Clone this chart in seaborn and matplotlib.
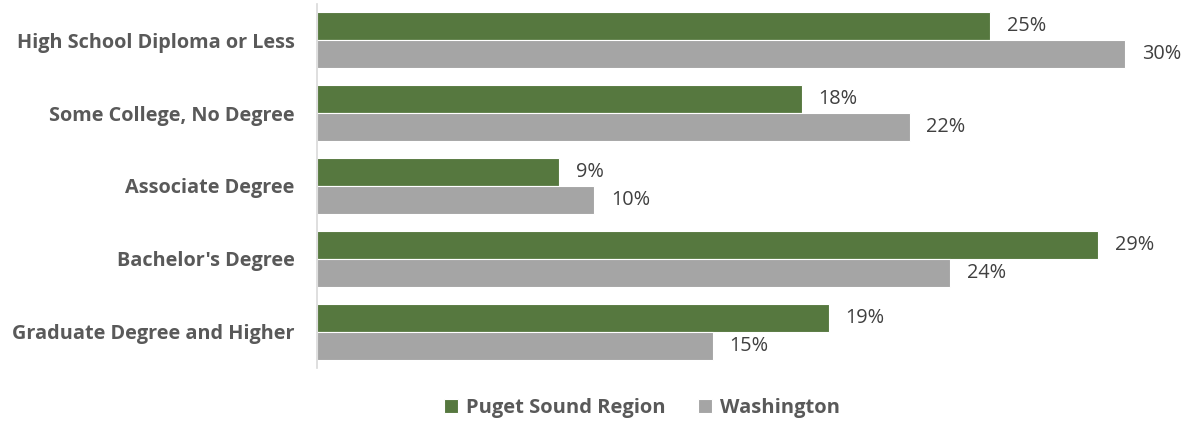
import matplotlib
matplotlib.use("Agg")
import matplotlib.pyplot as plt
import seaborn as sns
import pandas as pd

categories = ["High School Diploma or Less", "Some College, No Degree",
              "Associate Degree", "Bachelor's Degree", "Graduate Degree and Higher"]
series = ["Puget Sound Region", "Washington"]
puget = [25, 18, 9, 29, 19]
washington = [30, 22, 10.3, 23.5, 14.7]
colors = ["#548235", "#A5A5A5"]

df = pd.DataFrame({
    "category": categories * 2,
    "series": [series[0]] * len(categories) + [series[1]] * len(categories),
    "value": puget + washington,
})

sns.set_theme(style="white")
plt.rcParams['font.family'] = ['Open Sans', 'DejaVu Sans']

fig = plt.figure(figsize=(11.89, 4.24), dpi=100)
ax = fig.add_axes([317 / 1189, (424 - 368) / 424, (1179 - 317) / 1189, 364 / 424])

sns.barplot(data=df, y="category", x="value", hue="series", order=categories,
            hue_order=series, palette=colors, orient="h", width=0.77,
            edgecolor="white", linewidth=0.8, ax=ax, legend=True)

ax.set_xlim(0, 32)
ax.set_ylim(4.5, -0.5)
ax.set_xlabel("")
ax.set_ylabel("")
ax.set_xticks([])
for s in ["top", "right", "bottom"]:
    ax.spines[s].set_visible(False)
ax.spines["left"].set_color("#D9D9D9")
ax.spines["left"].set_linewidth(1.2)
ax.tick_params(axis="y", length=0, pad=16)
for lbl in ax.get_yticklabels():
    lbl.set_fontweight("bold")
    lbl.set_color("#595959")
    lbl.set_fontsize(14.3)

for cont in ax.containers:
    vals = [b.get_width() for b in cont]
    ax.bar_label(cont, labels=[f"{v:.0f}%" for v in vals], padding=12,
                 fontsize=14.3, color="#404040")

handles, labels = ax.get_legend_handles_labels()
ax.get_legend().remove()
leg = fig.legend(handles, labels, loc="center", bbox_to_anchor=(642 / 1189, 1 - 408 / 424),
                 ncol=2, frameon=False, handlelength=0.7, handleheight=0.7,
                 handletextpad=0.4, columnspacing=1.6,
                 prop={"weight": "bold", "size": 14.5})
for t in leg.get_texts():
    t.set_color("#595959")

fig.savefig("out.png", dpi=100)
